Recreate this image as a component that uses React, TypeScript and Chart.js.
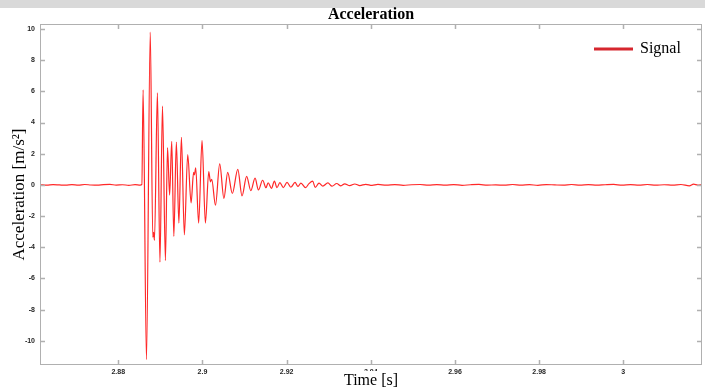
import React, { useEffect, useRef } from "react";
import { Chart, registerables } from "chart.js";

Chart.register(...registerables);

const TITLE = "Acceleration";
const SERIES_LABEL = "Signal";
const X_TITLE = "Time [s]";
const Y_TITLE = "Acceleration [m/s²]";

const X_TICKS = [2.88, 2.9, 2.92, 2.94, 2.96, 2.98, 3];
const Y_TICKS = [-10, -8, -6, -4, -2, 0, 2, 4, 6, 8, 10];
const X_MIN = 2.8614;
const X_MAX = 3.0187;
const Y_MIN = -11.55;
const Y_MAX = 10.32;

const TIME = [
  2.8615, 2.863, 2.8645, 2.866, 2.8675, 2.869, 2.8705, 2.872, 2.8735, 2.875,
  2.8765, 2.878, 2.8795, 2.881, 2.8825, 2.884, 2.8852, 2.8856,
  2.8859, 2.8867, 2.8876, 2.8882, 2.8884, 2.8886, 2.8893, 2.8899, 2.8905, 2.8912,
  2.8917, 2.8922, 2.8927, 2.8932, 2.8938, 2.8944, 2.895, 2.8957, 2.8965, 2.8973,
  2.8979, 2.8981, 2.8984, 2.8991, 2.8999, 2.9007, 2.9015, 2.9019, 2.9022, 2.9031,
  2.9041, 2.9051, 2.906, 2.9071, 2.9084, 2.9094, 2.9105, 2.9115, 2.9125, 2.9133,
  2.9143, 2.9151, 2.9156, 2.9164, 2.9171, 2.9177, 2.9184, 2.9192, 2.9201, 2.921,
  2.922, 2.9227, 2.9234, 2.9245, 2.9253, 2.9262, 2.9268, 2.9277, 2.9286, 2.9298,
  2.9308, 2.9319, 2.9329, 2.9338, 2.935, 2.9362, 2.9374, 2.9388, 2.9403, 2.9417,
  2.9437, 2.9457, 2.9477, 2.9497, 2.9517, 2.9537, 2.9557, 2.9577, 2.9597, 2.9617,
  2.9637, 2.9657, 2.9677, 2.9697, 2.9717, 2.9737, 2.9757, 2.9777, 2.9797, 2.9817,
  2.9837, 2.9857, 2.9877, 2.9897, 2.9917, 2.9937, 2.9957, 2.9977, 2.9997, 3.0017,
  3.0037, 3.0057, 3.0077, 3.0097, 3.0117, 3.0137, 3.0157, 3.0167, 3.0177, 3.0187,
];

const ACCEL = [
  0.01, -0.015, 0.02, 0.0, -0.02, 0.015, -0.01, 0.025, -0.005, -0.02,
  0.015, 0.03, -0.01, 0.01, -0.025, 0.015, -0.01, 0.025,
  6.1, -11.2, 9.8, -3.35, -3.05, -3.55, 5.9, -4.95, 5.05, -4.85,
  2.4, -0.65, 2.8, -3.3, 2.75, -2.45, 3.05, -3.2, 1.95, -1.15,
  0.8, 0.65, 1.1, -2.45, 2.85, -2.45, 0.86, 0.2, 0.35, -1.3,
  1.35, -0.86, 0.8, -0.55, 1.0, -0.7, 0.55, -0.37, 0.43, -0.32,
  0.3, -0.18, 0.14, -0.22, 0.24, -0.18, 0.15, -0.17, 0.16, -0.15,
  0.16, -0.1, 0.12, -0.18, 0.08, 0.24, -0.16, 0.12, -0.08, 0.13,
  -0.08, 0.09, -0.06, 0.07, -0.05, 0.06, -0.04, 0.04, -0.03, 0.03,
  -0.015, 0.02, -0.025, 0.01, 0.025, -0.02, 0.015, -0.01, 0.02, -0.025,
  0.01, 0.03, -0.015, 0.005, -0.02, 0.025, -0.01, 0.015, -0.025, 0.02,
  0.0, -0.015, 0.025, -0.01, 0.015, -0.02, 0.01, 0.03, -0.015, 0.02,
  -0.01, 0.025, -0.02, 0.01, -0.015, 0.025, -0.06, 0.05, -0.01, 0.015,
];

const LINE_COLOR = "rgb(255,40,40)";
const LEGEND_COLOR = "rgb(214,38,46)";
const FRAME_COLOR = "#b0b0b0";

const decor = {
  id: "decor",
  beforeDraw(chart: any) {
    const ctx = chart.ctx;
    ctx.save();
    ctx.fillStyle = "#ffffff";
    ctx.fillRect(0, 0, chart.width, chart.height);
    ctx.fillStyle = "#d9d9d9";
    ctx.fillRect(0, 0, chart.width, 8);
    ctx.restore();
  },
  afterDatasetsDraw(chart: any) {
    const ctx = chart.ctx;
    const { left, right, top, bottom } = chart.chartArea;
    const xs = chart.scales.x;
    const ys = chart.scales.y;
    ctx.save();
    ctx.strokeStyle = FRAME_COLOR;
    ctx.lineWidth = 1;
    ctx.strokeRect(Math.round(left) + 0.5, Math.round(top) + 0.5, Math.round(right - left) - 1, Math.round(bottom - top) - 1);
    ctx.lineWidth = 1.5;
    ctx.beginPath();
    X_TICKS.forEach((v) => {
      const px = Math.round(xs.getPixelForValue(v)) + 0.5;
      ctx.moveTo(px, bottom);
      ctx.lineTo(px, bottom - 5);
      ctx.moveTo(px, top);
      ctx.lineTo(px, top + 5);
    });
    Y_TICKS.forEach((v) => {
      const py = Math.round(ys.getPixelForValue(v)) + 0.5;
      ctx.moveTo(left, py);
      ctx.lineTo(left + 5, py);
      ctx.moveTo(right, py);
      ctx.lineTo(right - 5, py);
    });
    ctx.stroke();
    ctx.restore();
  },
  afterDraw(chart: any) {
    const ctx = chart.ctx;
    const { left, right, top, bottom } = chart.chartArea;
    const cx = (left + right) / 2;
    const cy = (top + bottom) / 2;
    ctx.save();
    ctx.fillStyle = "#000";
    ctx.textAlign = "center";
    ctx.textBaseline = "middle";
    ctx.font = 'bold 16px "Liberation Serif"';
    ctx.fillText(TITLE, cx, 15);
    ctx.font = '16px "Liberation Serif"';
    const w = ctx.measureText(X_TITLE).width;
    ctx.fillStyle = "#fff";
    ctx.fillRect(cx - w / 2 - 2, 371, w + 4, 21);
    ctx.fillStyle = "#000";
    ctx.fillText(X_TITLE, cx, 381);
    ctx.save();
    ctx.translate(20, cy);
    ctx.rotate(-Math.PI / 2);
    ctx.font = '17px "Liberation Serif"';
    ctx.fillText(Y_TITLE, 0, 0);
    ctx.restore();
    const ly = top + 25;
    ctx.strokeStyle = LEGEND_COLOR;
    ctx.lineWidth = 3;
    ctx.beginPath();
    ctx.moveTo(right - 108, ly);
    ctx.lineTo(right - 69, ly);
    ctx.stroke();
    ctx.fillStyle = "#000";
    ctx.textAlign = "left";
    ctx.font = '16px "Liberation Serif"';
    ctx.fillText(SERIES_LABEL, right - 62, ly);
    ctx.restore();
  },
};

export default function App() {
  const ref = useRef<HTMLCanvasElement | null>(null);
  useEffect(() => {
    if (!ref.current) return;
    const data = TIME.map((t, i) => ({ x: t, y: ACCEL[i] }));
    const tickFont = { family: '"Liberation Sans", Arial, sans-serif', size: 7, weight: "bold" as const };
    const chart = new Chart(ref.current, {
      type: "line",
      data: {
        datasets: [
          {
            label: SERIES_LABEL,
            data,
            borderColor: LINE_COLOR,
            borderWidth: 1.2,
            pointRadius: 0,
            cubicInterpolationMode: "monotone",
            fill: false,
          },
        ],
      },
      options: {
        animation: false,
        responsive: false,
        maintainAspectRatio: false,
        devicePixelRatio: 1,
        layout: { padding: { top: 24, right: 3, left: 0, bottom: 0 } },
        plugins: { legend: { display: false }, title: { display: false }, tooltip: { enabled: false } },
        scales: {
          x: {
            type: "linear",
            min: X_MIN,
            max: X_MAX,
            afterBuildTicks: (s: any) => {
              s.ticks = X_TICKS.map((v) => ({ value: v }));
            },
            afterFit: (s: any) => {
              s.height = 27;
            },
            grid: { display: false, drawTicks: false },
            border: { display: false },
            ticks: {
              font: tickFont,
              color: "#262626",
              padding: 3,
              maxRotation: 0,
              autoSkip: false,
              callback: (v: any) => String(v),
            },
          },
          y: {
            type: "linear",
            min: Y_MIN,
            max: Y_MAX,
            afterBuildTicks: (s: any) => {
              s.ticks = Y_TICKS.map((v) => ({ value: v }));
            },
            afterFit: (s: any) => {
              s.width = 40;
            },
            grid: { display: false, drawTicks: false },
            border: { display: false },
            ticks: {
              font: tickFont,
              color: "#262626",
              padding: 5,
              autoSkip: false,
              callback: (v: any) => String(v),
            },
          },
        },
      },
      plugins: [decor],
    });
    return () => chart.destroy();
  }, []);
  return (
    <canvas
      ref={ref}
      width={705}
      height={392}
      style={{ position: "fixed", left: 0, top: 0, width: 705, height: 392, display: "block" }}
    />
  );
}
